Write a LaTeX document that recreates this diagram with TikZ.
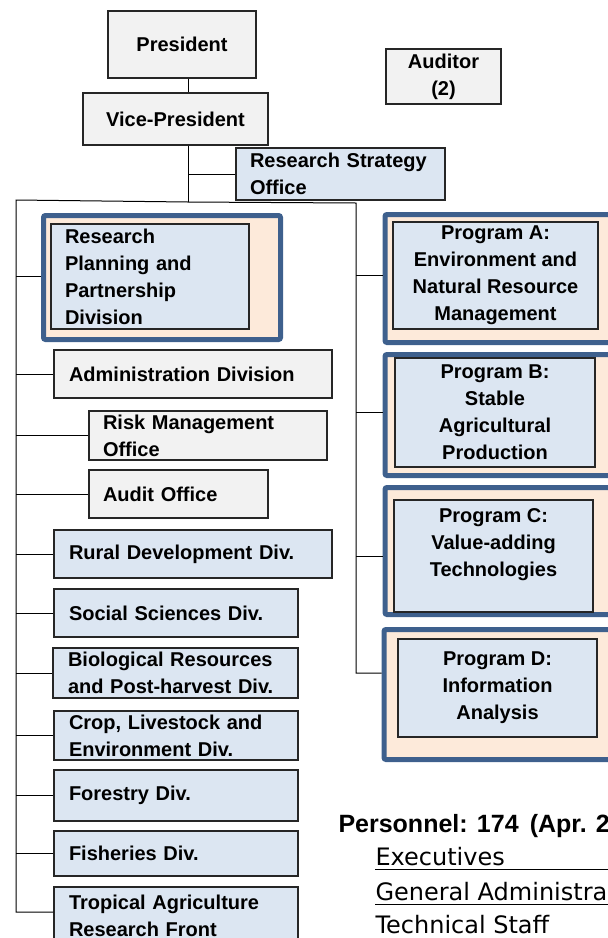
\documentclass[tikz,border=0pt]{standalone}
\usepackage{fontspec}
\setmainfont{Liberation Sans}
\newfontfamily\staffont{DejaVu Sans}
\definecolor{boxgray}{RGB}{242,242,242}
\definecolor{boxblue}{RGB}{220,230,242}
\definecolor{peach}{RGB}{253,234,218}
\definecolor{frameblue}{RGB}{62,96,141}
\tikzset{
  box/.style={draw=black!85, line width=1.1pt, inner sep=0pt, font=\bfseries\fontsize{20}{27}\selectfont},
  graybox/.style={box, fill=boxgray},
  bluebox/.style={box, fill=boxblue},
  progframe/.style={draw=frameblue, fill=peach, line width=5pt, rounded corners=2pt, inner sep=0pt},
  staffline/.style={anchor=base west, inner sep=0pt, font=\staffont\fontsize{24}{30}\selectfont},
}
\begin{document}
\begin{tikzpicture}[x=1pt, y=-1pt, line width=1pt]
\useasboundingbox (0,0) rectangle (608,938);
\clip (0,0) rectangle (608,938);
% Direction
\node[graybox, minimum width=148, minimum height=67] (pres) at (182, 44.5) {President};
\node[graybox, minimum width=185, minimum height=52] (vp) at (175.5, 119) {Vice-President};
\node[graybox, minimum width=115, minimum height=55, align=center] (aud) at (443.5, 76.5) {Auditor\\(2)};
\node[bluebox, minimum width=209, minimum height=52, text width=181pt, align=left] (rso) at (340.5, 174) {Research Strategy\\Office};
% Divisions
\node[progframe, minimum width=237, minimum height=124] (fRPPD) at (162, 277.5) {};
\node[bluebox, minimum width=198, minimum height=105, text width=170pt, align=left] (rppd) at (150, 276.5) {Research\\Planning and\\Partnership\\Division};
\node[graybox, minimum width=278, minimum height=48, text width=248pt, align=left] (admin) at (193, 374) {Administration Division};
\node[graybox, minimum width=238, minimum height=49, text width=210pt, align=left] (risk) at (208, 435.5) {Risk Management\\Office};
\node[graybox, minimum width=179, minimum height=48, text width=151pt, align=left] (audit) at (178.5, 494) {Audit Office};
\node[bluebox, minimum width=278, minimum height=48, text width=248pt, align=left] (rural) at (193, 554) {Rural Development Div.};
\node[bluebox, minimum width=244, minimum height=48, text width=214pt, align=left] (social) at (176, 613) {Social Sciences Div.};
\node[bluebox, minimum width=245, minimum height=50, text width=215pt, align=left] (bio) at (175.5, 673) {Biological Resources\\and Post-harvest Div.};
\node[bluebox, minimum width=244, minimum height=49, text width=214pt, align=left] (crop) at (176, 735.5) {Crop, Livestock and\\Environment Div.};
\node[bluebox, minimum width=244, minimum height=51, text width=214pt, align=left] (forestry) at (176, 795.5) {Forestry Div.};
\node[bluebox, minimum width=244, minimum height=45, text width=214pt, align=left] (fisheries) at (176, 853.5) {Fisheries Div.};
\node[bluebox, minimum width=244, minimum height=58, text width=214pt, align=left] (trop) at (176, 916) {Tropical Agriculture\\Research Front};
% Programs
\node[progframe, minimum width=240, minimum height=128] (fA) at (505, 278.5) {};
\node[progframe, minimum width=240, minimum height=121] (fB) at (505, 415) {};
\node[progframe, minimum width=240, minimum height=127] (fC) at (505, 551) {};
\node[progframe, minimum width=241, minimum height=130] (fD) at (504.5, 694.5) {};
\node[bluebox, minimum width=205, minimum height=107, align=center] (pA) at (495.5, 275.5) {Program A:\\Environment and\\Natural Resource\\Management};
\node[bluebox, minimum width=200, minimum height=109, align=center] (pB) at (495, 412.5) {Program B:\\Stable\\Agricultural\\Production};
\node[bluebox, minimum width=199, minimum height=112, align=center] (pC) at (493.5, 556) {Program C:\\Value-adding\\Technologies\\~};
\node[bluebox, minimum width=199, minimum height=98, align=center] (pD) at (497.5, 688) {Program D:\\Information\\Analysis};
% Lines
\coordinate (hub) at (188, 202);
\coordinate (ltop) at (16, 200);
\coordinate (lbot) at (16, 912);
\coordinate (rtop) at (356, 203);
\coordinate (rbot) at (356, 673);
\draw (hub |- pres.south) -- (hub |- vp.north);
\draw (hub |- vp.south) -- (hub);
\draw (hub |- rso.west) -- (rso.west);
\draw (lbot -| trop.west) -- (lbot) -- (ltop) -- (hub) -- (rtop) -- (rbot) -- (rbot -| fD.west);
\draw (ltop |- rppd.west) -- (rppd.west -| fRPPD.west);
\foreach \n in {admin, risk, audit, rural, social, bio, crop, forestry, fisheries}
  \draw (ltop |- \n.west) -- (\n.west);
\foreach \n in {A, B, C}
  \draw (rtop |- p\n.west) -- (p\n.west -| f\n.west);
% Personnel
\node[anchor=base west, inner sep=0pt, font=\bfseries\fontsize{25}{30}\selectfont] (staff) at (338, 832) {Personnel: 174 \,(Apr. 2};
\node[staffline] (exec) at (375, 865) {Executives};
\node[staffline] (genadm) at (375, 900) {General Administra};
\node[staffline] (tech) at (375, 933) {Technical Staff};
\draw ([yshift=-4.5pt]exec.base west) -- ++(250, 0);
\draw ([yshift=-4.5pt]genadm.base west) -- ++(250, 0);
\end{tikzpicture}
\end{document}
